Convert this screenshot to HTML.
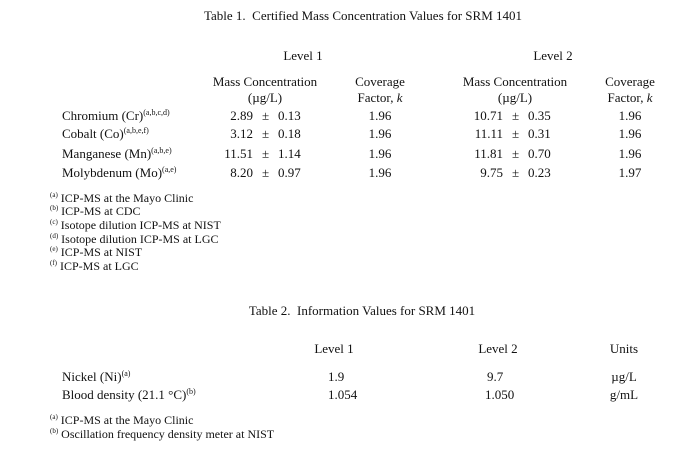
<!DOCTYPE html>
<html><head><meta charset="utf-8"><style>
body{margin:0;width:689px;height:451px;background:#fff;position:relative;font-family:"Liberation Serif",serif;color:#111;overflow:hidden}
div{position:absolute;white-space:nowrap;font-size:13px;line-height:16px}
.c{transform:translateX(-50%)}
.r{transform:translateX(-100%)}
sup{font-size:8px;vertical-align:5px;line-height:0}
.f{font-size:12px;line-height:14px;left:50px}
.f sup{font-size:7px}
</style></head><body>
<div class="c" style="left:363px;top:8px">Table 1.&nbsp; Certified Mass Concentration Values for SRM 1401</div>
<div class="c" style="left:303px;top:48px">Level 1</div>
<div class="c" style="left:553px;top:48px">Level 2</div>
<div class="c" style="left:265px;top:74px">Mass Concentration</div>
<div class="c" style="left:265px;top:90px">(µg/L)</div>
<div class="c" style="left:380px;top:74px">Coverage</div>
<div class="c" style="left:380px;top:90px">Factor, <i>k</i></div>
<div class="c" style="left:515px;top:74px">Mass Concentration</div>
<div class="c" style="left:515px;top:90px">(µg/L)</div>
<div class="c" style="left:630px;top:74px">Coverage</div>
<div class="c" style="left:630px;top:90px">Factor, <i>k</i></div>

<div style="left:62px;top:108px">Chromium (Cr)<sup>(a,b,c,d)</sup></div>
<div style="left:62px;top:126px">Cobalt (Co)<sup>(a,b,e,f)</sup></div>
<div style="left:62px;top:146px">Manganese (Mn)<sup>(a,b,e)</sup></div>
<div style="left:62px;top:165px">Molybdenum (Mo)<sup>(a,e)</sup></div>

<div class="r" style="left:253px;top:108px">2.89</div><div style="left:262px;top:108px">±</div><div style="left:278px;top:108px">0.13</div>
<div class="r" style="left:253px;top:126px">3.12</div><div style="left:262px;top:126px">±</div><div style="left:278px;top:126px">0.18</div>
<div class="r" style="left:253px;top:146px">11.51</div><div style="left:262px;top:146px">±</div><div style="left:278px;top:146px">1.14</div>
<div class="r" style="left:253px;top:165px">8.20</div><div style="left:262px;top:165px">±</div><div style="left:278px;top:165px">0.97</div>
<div class="c" style="left:380px;top:108px">1.96</div>
<div class="c" style="left:380px;top:126px">1.96</div>
<div class="c" style="left:380px;top:146px">1.96</div>
<div class="c" style="left:380px;top:165px">1.96</div>

<div class="r" style="left:503px;top:108px">10.71</div><div style="left:512px;top:108px">±</div><div style="left:528px;top:108px">0.35</div>
<div class="r" style="left:503px;top:126px">11.11</div><div style="left:512px;top:126px">±</div><div style="left:528px;top:126px">0.31</div>
<div class="r" style="left:503px;top:146px">11.81</div><div style="left:512px;top:146px">±</div><div style="left:528px;top:146px">0.70</div>
<div class="r" style="left:503px;top:165px">9.75</div><div style="left:512px;top:165px">±</div><div style="left:528px;top:165px">0.23</div>
<div class="c" style="left:630px;top:108px">1.96</div>
<div class="c" style="left:630px;top:126px">1.96</div>
<div class="c" style="left:630px;top:146px">1.96</div>
<div class="c" style="left:630px;top:165px">1.97</div>

<div class="f" style="top:191px"><sup>(a)</sup> ICP-MS at the Mayo Clinic</div>
<div class="f" style="top:204px"><sup>(b)</sup> ICP-MS at CDC</div>
<div class="f" style="top:218px"><sup>(c)</sup> Isotope dilution ICP-MS at NIST</div>
<div class="f" style="top:232px"><sup>(d)</sup> Isotope dilution ICP-MS at LGC</div>
<div class="f" style="top:245px"><sup>(e)</sup> ICP-MS at NIST</div>
<div class="f" style="top:259px"><sup>(f)</sup> ICP-MS at LGC</div>

<div class="c" style="left:362px;top:303px">Table 2.&nbsp; Information Values for SRM 1401</div>
<div class="c" style="left:334px;top:341px">Level 1</div>
<div class="c" style="left:498px;top:341px">Level 2</div>
<div class="c" style="left:624px;top:341px">Units</div>
<div style="left:62px;top:369px">Nickel (Ni)<sup>(a)</sup></div>
<div style="left:62px;top:387px">Blood density (21.1 °C)<sup>(b)</sup></div>
<div style="left:328px;top:369px">1.9</div>
<div style="left:328px;top:387px">1.054</div>
<div style="left:487px;top:369px">9.7</div>
<div style="left:485px;top:387px">1.050</div>
<div class="c" style="left:624px;top:369px">µg/L</div>
<div class="c" style="left:624px;top:387px">g/mL</div>
<div class="f" style="top:413px"><sup>(a)</sup> ICP-MS at the Mayo Clinic</div>
<div class="f" style="top:427px"><sup>(b)</sup> Oscillation frequency density meter at NIST</div>
</body></html>
